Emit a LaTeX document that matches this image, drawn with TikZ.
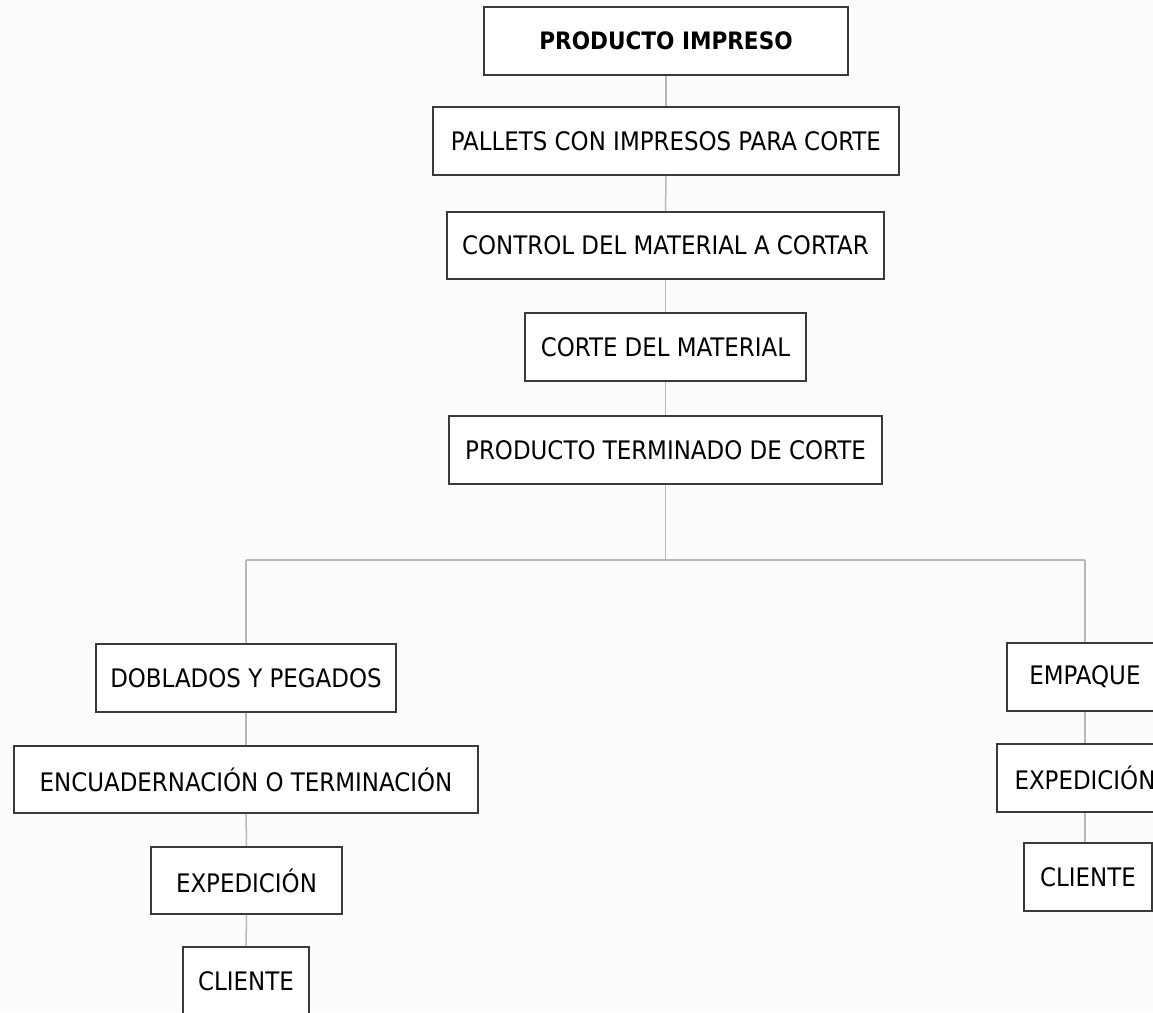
\documentclass[tikz,border=0pt]{standalone}
\usepackage{fontspec}
\setmainfont{DejaVu Sans Condensed}
\begin{document}
\begin{tikzpicture}[x=1pt,y=-1pt,
  box/.style={draw=boxcol,line width=1.6pt,fill=white,inner sep=0pt,
    font=\fontsize{25.5}{30}\selectfont,text=black},
  conn/.style={draw=conncol,line width=1.5pt}]
\definecolor{boxcol}{HTML}{3A3A3A}
\definecolor{conncol}{HTML}{B8B8B8}
\definecolor{bgcol}{HTML}{FCFCFC}
\useasboundingbox (0,0) rectangle (1153,1012);
\fill[bgcol] (0,0) rectangle (1153,1012);
\clip (0,0) rectangle (1153,1012);
% main column
\node[box,minimum width=364pt,minimum height=68pt,font=\fontsize{24}{28}\selectfont\bfseries] (pi) at (666,41) {PRODUCTO IMPRESO};
\node[box,minimum width=466pt,minimum height=68pt] (pa) at (666,141) {PALLETS CON IMPRESOS PARA CORTE};
\node[box,minimum width=437pt,minimum height=67pt] (co) at (665.5,245.5) {CONTROL DEL MATERIAL A CORTAR};
\node[box,minimum width=281pt,minimum height=68pt] (cm) at (665.5,347) {CORTE DEL MATERIAL};
\node[box,minimum width=433pt,minimum height=68pt] (pt) at (665.5,450) {PRODUCTO TERMINADO DE CORTE};
% left column
\node[box,minimum width=300pt,minimum height=68pt] (do) at (246,678) {DOBLADOS Y PEGADOS};
\node[box,minimum width=464pt,minimum height=67pt] (en) at (246,779.5) {ENCUADERNACIÓN O TERMINACIÓN};
\node[box,minimum width=191pt,minimum height=67pt] (exl) at (246.5,880.5) {EXPEDICIÓN};
\node[box,minimum width=126pt,minimum height=68pt] (cll) at (246,981) {CLIENTE};
% right column
\node[box,minimum width=156pt,minimum height=68pt] (emp) at (1085,677) {EMPAQUE};
\node[box,minimum width=176pt,minimum height=68pt] (exr) at (1085,778) {EXPEDICIÓN};
\node[box,minimum width=128pt,minimum height=68pt] (clr) at (1088,877) {CLIENTE};
% junction coordinates
\coordinate (j) at (665.5,560);
\coordinate (jl) at (246,560);
\coordinate (jr) at (1085,560);
% connectors
\draw[conn] (pi.south) -- (pa.north);
\draw[conn] (pa.south) -- (co.north);
\draw[conn] (co.south) -- (cm.north);
\draw[conn] (cm.south) -- (pt.north);
\draw[conn] (pt.south) -- (j);
\draw[conn] (jl) -- (jr);
\draw[conn] (jl) -- (do.north);
\draw[conn] (jr) -- (emp.north);
\draw[conn] (do.south) -- (en.north);
\draw[conn] (en.south) -- (exl.north);
\draw[conn] (exl.south) -- (cll.north);
\draw[conn] (emp.south) -- (exr.north);
\draw[conn] (exr.south) -- (clr.north -| exr.south);
\end{tikzpicture}
\end{document}
